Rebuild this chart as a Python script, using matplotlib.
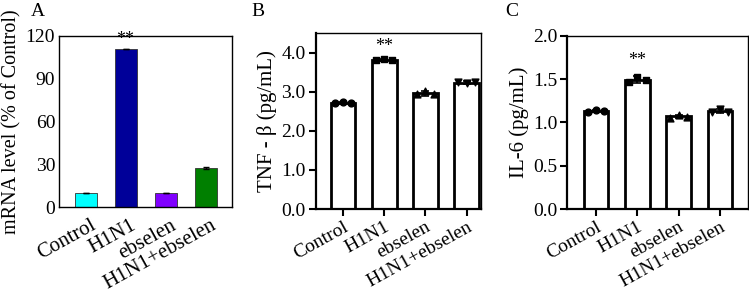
import matplotlib
matplotlib.use("Agg")
import matplotlib.pyplot as plt
import matplotlib.transforms as mtransforms
import numpy as np

plt.rcParams['font.family'] = ['Liberation Serif', 'DejaVu Serif']

categories = ["Control", "H1N1", "ebselen", "H1N1+ebselen"]

# Panel A
mrna_values = [9.6, 111.2, 9.6, 27.5]
mrna_err = [0.0, 0.0, 0.0, 0.5]
mrna_colors = ["#00FFFF", "#000099", "#8000FF", "#007F00"]

# Panel B
tnf_points = [[2.71, 2.74, 2.72], [3.80, 3.84, 3.80], [2.93, 3.02, 2.93], [3.25, 3.21, 3.25]]
tnf_means = [2.72, 3.81, 2.96, 3.23]
tnf_err = [0.02, 0.03, 0.06, 0.03]

# Panel C
il6_points = [[1.12, 1.14, 1.13], [1.46, 1.52, 1.49], [1.05, 1.09, 1.06], [1.12, 1.15, 1.12]]
il6_means = [1.13, 1.49, 1.07, 1.13]
il6_err = [0.01, 0.04, 0.02, 0.02]

markers = ["o", "s", "^", "v"]

W, H = 749, 291
fig = plt.figure(figsize=(W / 100, H / 100), dpi=100)

TICK_FS = 14
XT_FS = 15
ROT = 29

def add_ax(l, r, t, b):
    return fig.add_axes([l / W, (H - b) / H, (r - l) / W, (b - t) / H])

def shift_xlabels(ax, dx_px=5, dy_px=-5):
    off = mtransforms.ScaledTranslation(dx_px / 100, dy_px / 100, fig.dpi_scale_trans)
    for lab in ax.get_xticklabels():
        lab.set_transform(lab.get_transform() + off)

x = np.arange(len(categories))

# ---- A ----
axA = add_ax(59.3, 231.7, 36, 207)
axA.bar(x, mrna_values, width=0.55, color=mrna_colors, edgecolor="#333333", linewidth=0.6,
        yerr=mrna_err, error_kw=dict(elinewidth=0.8, capsize=2, ecolor="black"))
axA.set_xlim(-0.655, 3.655)
axA.set_ylim(0, 120)
axA.set_yticks([0, 30, 60, 90, 120])
axA.tick_params(axis='both', length=0, labelsize=TICK_FS, pad=3)
axA.set_xticks(x)
axA.set_xticklabels(categories, rotation=ROT, ha='right', rotation_mode='anchor', fontsize=XT_FS)
shift_xlabels(axA)
axA.set_ylabel("mRNA level (% of Control)", fontsize=14.5, labelpad=3)
for s in axA.spines.values():
    s.set_linewidth(1.0)
axA.text(x[1], mrna_values[1] + 0.5, "**", ha='center', va='bottom', fontsize=13)
fig.text(38 / W, 1 - 12 / H, "A", fontsize=14, ha='center', va='center')

def panel(ax, pts, means, err, ylim, yticks, ylabel):
    ax.bar(x, means, width=0.6, color="white", edgecolor="black", linewidth=2.0, zorder=2)
    for i in range(len(categories)):
        offs = np.array([-0.2, 0.0, 0.2])
        ax.errorbar(x[i], means[i], yerr=err[i], color="black", capsize=3, elinewidth=1.2,
                    capthick=1.2, zorder=3)
        ax.scatter(x[i] + offs, pts[i], marker=markers[i], s=24, color="black", zorder=4)
    ax.set_ylim(*ylim)
    ax.set_yticks(yticks)
    ax.set_yticklabels([f"{v:.1f}" for v in yticks])
    ax.set_xticks(x)
    ax.set_xticklabels(categories, rotation=ROT, ha='right', rotation_mode='anchor', fontsize=XT_FS)
    shift_xlabels(ax)
    ax.tick_params(axis='both', direction='out', length=5, width=1.5, labelsize=TICK_FS, pad=2)
    ax.set_ylabel(ylabel, fontsize=15, labelpad=3)
    ax.spines['left'].set_linewidth(1.6)
    ax.spines['bottom'].set_linewidth(1.6)
    ax.spines['top'].set_linewidth(1.0)
    ax.spines['right'].set_linewidth(1.0)

# ---- B ----
axB = add_ax(315.5, 481, 33, 209)
panel(axB, tnf_points, tnf_means, tnf_err, (0, 4.5), [0.0, 1.0, 2.0, 3.0, 4.0], "TNF - β (pg/mL)")
axB.set_xlim(-0.67, 3.35)
axB.text(x[1], 3.95, "**", ha='center', va='bottom', fontsize=13)
fig.text(258 / W, 1 - 12 / H, "B", fontsize=14, ha='center', va='center')

# ---- C ----
axC = add_ax(567, 748, 35.7, 209)
panel(axC, il6_points, il6_means, il6_err, (0, 2.0), [0.0, 0.5, 1.0, 1.5, 2.0], "IL-6 (pg/mL)")
axC.set_xlim(-0.70, 3.68)
axC.text(x[1], 1.62, "**", ha='center', va='bottom', fontsize=13)
fig.text(512 / W, 1 - 12 / H, "C", fontsize=14, ha='center', va='center')

fig.savefig("out.png", dpi=100)
